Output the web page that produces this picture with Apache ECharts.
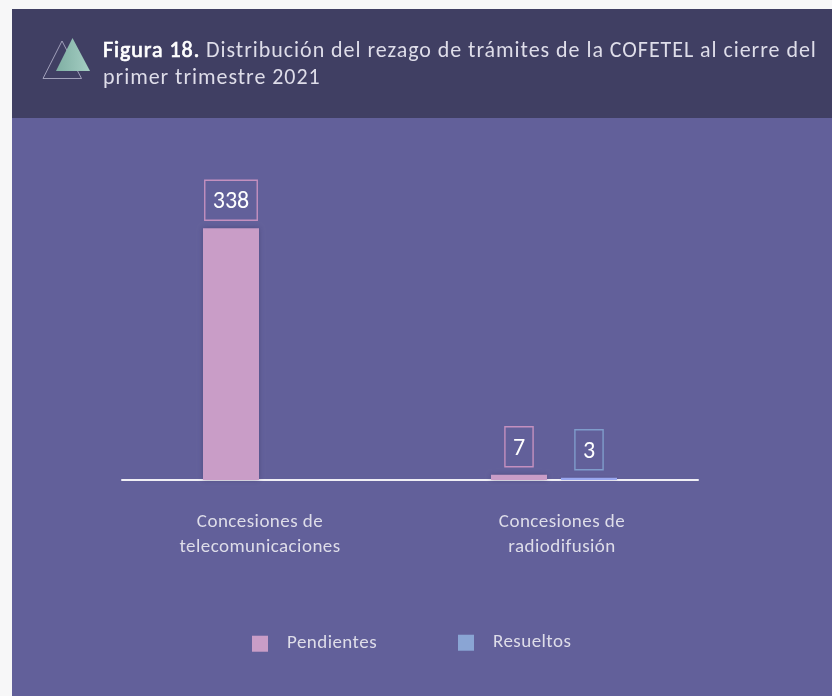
<!DOCTYPE html>
<html><head><meta charset="utf-8">
<style>html,body{margin:0;padding:0;background:#f7f7f8}#c{width:832px;height:696px}</style>
<script src="https://cdn.jsdelivr.net/npm/echarts@6/dist/echarts.min.js"></script>
</head><body><div id="c"></div>
<script>
const categories = ['Concesiones de\ntelecomunicaciones', 'Concesiones de\nradiodifusión'];
const pendientes = [338, 7];
const resueltos = [null, 3];
const titleLead = 'Figura 18.';
const titleRest1 = ' Distribución del rezago de trámites de la COFETEL al cierre del';
const titleRest2 = 'primer trimestre 2021';
const FONT = 'Carlito, Lato, "Open Sans", sans-serif';

// Tracking per font size: the reference's text is letter-spaced, which the text style does not offer.
const tracking = {'22':'0.95px', '19':'0.45px'};
function applyTracking(ctx){
  const m = /([\d.]+)px/.exec(ctx.font);
  ctx.letterSpacing = (m && tracking[m[1]]) || '0px';
}
const P = CanvasRenderingContext2D.prototype;
['fillText','strokeText','measureText'].forEach(function(name){
  const orig = P[name];
  P[name] = function(){ applyTracking(this); return orig.apply(this, arguments); };
});

const chart = echarts.init(document.getElementById('c'), null, {renderer:'canvas'});
function labelFor(color){
  return {show:true, position:'top', distance:8, color:'#ffffff', fontFamily:FONT, fontSize:24,
    borderColor:color, borderWidth:1.4, padding:[10,8,6,8], lineHeight:24};
}
const axisText = {color:'#dedde9', fontFamily:FONT, fontSize:19, lineHeight:25};
chart.setOption({
  animation:false,
  backgroundColor:'#f7f7f8',
  grid:{left:122, width:576, top:182, height:298, containLabel:false},
  xAxis:{type:'category', data:categories,
    axisLine:{lineStyle:{color:'#f0eff5', width:2}}, axisTick:{show:false},
    axisLabel:{margin:30, interval:0, ...axisText,
      formatter:function(v,i){ const k = i===0?'a':'b'; return v.split('\n').map(function(s){return '{'+k+'|'+s+'}';}).join('\n'); },
      rich:{a:{...axisText, padding:[0,12,0,0]}, b:{...axisText, padding:[0,0,0,16]}}}},
  yAxis:{type:'value', min:0, max:400, show:false, splitLine:{show:false}},
  legend:[
    {data:['Pendientes'], left:252, top:634, padding:0, itemWidth:16, itemHeight:16, itemGap:0, icon:'rect',
     textStyle:{color:'#dedde9', fontFamily:FONT, fontSize:19, padding:[4,0,0,14]}},
    {data:[{name:'Resueltos', itemStyle:{color:'#8AA5D4'}}], left:458, top:633, padding:0, itemWidth:16, itemHeight:16, itemGap:0, icon:'rect',
     textStyle:{color:'#dedde9', fontFamily:FONT, fontSize:19, padding:[0,0,0,14]}}
  ],
  series:[
    {name:'Pendientes', type:'bar', data:pendientes, barWidth:56, barGap:'25%', z:3,
     itemStyle:{color:'#C99DC7', shadowColor:'rgba(40,35,80,0.35)', shadowBlur:5},
     label:labelFor('#C490BF')},
    {name:'Resueltos', type:'bar', data:resueltos, barWidth:56, z:3,
     itemStyle:{color:'#9AA8F0', shadowColor:'rgba(40,35,80,0.2)', shadowBlur:3},
     label:labelFor('#7F9CCB')}
  ],
  graphic:[
    {type:'rect', z:-10, silent:true, shape:{x:12,y:9,width:820,height:687}, style:{fill:'#62609A'}},
    {type:'rect', z:-9, silent:true, shape:{x:12,y:9,width:820,height:109}, style:{fill:'#403F63'}},
    {type:'polygon', z:-8, silent:true, shape:{points:[[62,41],[43,78.5],[81.5,78.5]]},
      style:{fill:'none', stroke:'#b9b7cf', lineWidth:0.8}},
    {type:'polygon', z:-7, silent:true, shape:{points:[[72.5,38],[56,71],[90,71]]},
      style:{fill:new echarts.graphic.LinearGradient(0,0,1,0,[{offset:0,color:'#7FAFA3'},{offset:1,color:'#A5CEC3'}])}},
    {type:'text', z:-6, silent:true, x:103, y:39, style:{
      text:'{b|'+titleLead+'}{r|'+titleRest1+'}',
      rich:{b:{fontFamily:FONT,fontSize:22,fill:'#ffffff',stroke:'#ffffff',lineWidth:0.7,lineHeight:24},
            r:{fontFamily:FONT,fontSize:22,fill:'#dedde9',lineHeight:24}}}},
    {type:'text', z:-6, silent:true, x:103, y:66, style:{
      text:titleRest2, fontFamily:FONT, fontSize:22, fill:'#dedde9', lineHeight:24}}
  ]
});
</script></body></html>
